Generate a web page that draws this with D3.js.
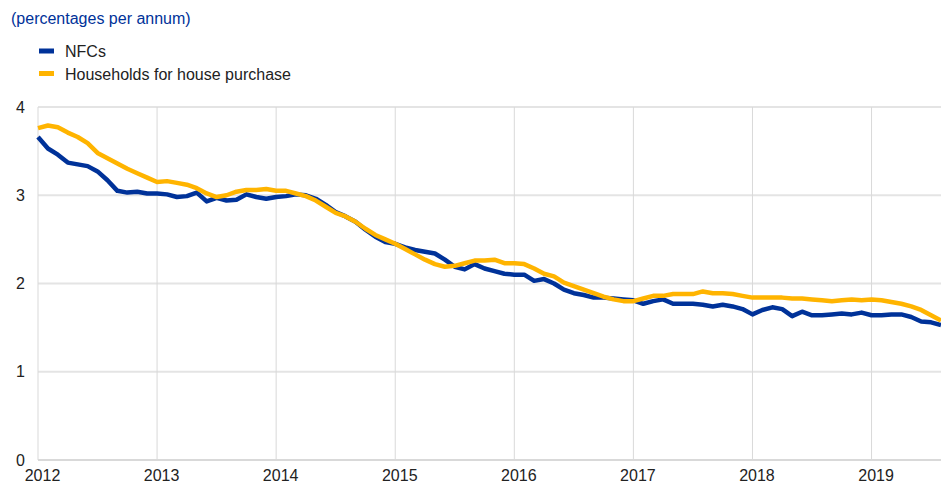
<!DOCTYPE html>
<html>
<head>
<meta charset="utf-8">
<script src="https://cdn.jsdelivr.net/npm/d3@7"></script>
<style>
  body { margin: 0; background: #fff; }
  svg { font-family: "Liberation Sans", Arial, sans-serif; }
</style>
</head>
<body>
<div id="chart"></div>
<script>
// Monthly series, Jan 2012 - Aug 2019
const startYear = 2012;
const nfcRates = [
  3.66, 3.53, 3.46, 3.37, 3.35, 3.33, 3.27, 3.17, 3.05, 3.03, 3.04, 3.02,
  3.02, 3.01, 2.98, 2.99, 3.03, 2.93, 2.97, 2.94, 2.95, 3.01, 2.98, 2.96,
  2.98, 2.99, 3.01, 3.00, 2.96, 2.89, 2.81, 2.76, 2.70, 2.61, 2.53, 2.47,
  2.45, 2.41, 2.38, 2.36, 2.34, 2.27, 2.19, 2.16, 2.22, 2.17, 2.14, 2.11,
  2.10, 2.10, 2.03, 2.05, 2.00, 1.93, 1.89, 1.87, 1.84, 1.84, 1.83, 1.82,
  1.81, 1.77, 1.80, 1.82, 1.77, 1.77, 1.77, 1.76, 1.74, 1.76, 1.74, 1.71,
  1.65, 1.70, 1.73, 1.71, 1.63, 1.68, 1.64, 1.64, 1.65, 1.66, 1.65, 1.67,
  1.64, 1.64, 1.65, 1.65, 1.62, 1.57, 1.56, 1.53
];
const houseRates = [
  3.76, 3.79, 3.77, 3.71, 3.66, 3.59, 3.48, 3.42, 3.36, 3.30, 3.25, 3.20,
  3.15, 3.16, 3.14, 3.12, 3.08, 3.02, 2.98, 3.00, 3.04, 3.06, 3.06, 3.07,
  3.05, 3.05, 3.02, 2.99, 2.94, 2.87, 2.80, 2.76, 2.70, 2.62, 2.55, 2.50,
  2.45, 2.39, 2.33, 2.27, 2.22, 2.19, 2.20, 2.23, 2.26, 2.26, 2.27, 2.23,
  2.23, 2.22, 2.17, 2.11, 2.08, 2.01, 1.97, 1.93, 1.89, 1.85, 1.82, 1.80,
  1.80, 1.83, 1.86, 1.86, 1.88, 1.88, 1.88, 1.91, 1.89, 1.89, 1.88, 1.86,
  1.84, 1.84, 1.84, 1.84, 1.83, 1.83, 1.82, 1.81, 1.80, 1.81, 1.82, 1.81,
  1.82, 1.81, 1.79, 1.77, 1.74, 1.70, 1.64, 1.58
];
const seriesNames = ["NFCs", "Households for house purchase"];
const seriesColors = ["#003299", "#ffb400"];
const yTicks = [0, 1, 2, 3, 4];
const xTicks = [2012, 2013, 2014, 2015, 2016, 2017, 2018, 2019];

const width = 941, height = 484;
const margin = {top: 107, right: 0, bottom: 24, left: 38};

const svg = d3.select("#chart").append("svg")
  .attr("width", width)
  .attr("height", height);

const x = d3.scaleLinear()
  .domain([startYear, startYear + (nfcRates.length - 1) / 12])
  .range([margin.left, width - margin.right]);
const y = d3.scaleLinear()
  .domain([0, 4])
  .range([height - margin.bottom, margin.top]);

// Subtitle
svg.append("text")
  .attr("x", 11)
  .attr("y", 24)
  .attr("fill", "#003299")
  .style("font-size", "16px")
  .text("(percentages per annum)");

// Legend
const legend = svg.append("g");
seriesNames.forEach((name, i) => {
  legend.append("rect")
    .attr("x", 39).attr("y", 48.5 + i * 22.5)
    .attr("width", 15).attr("height", 5)
    .attr("fill", seriesColors[i]);
  legend.append("text")
    .attr("x", 65).attr("y", 57 + i * 22.5)
    .attr("fill", "#222")
    .style("font-size", "16px")
    .text(name);
});

// Horizontal grid
svg.append("g")
  .selectAll("line")
  .data(yTicks.filter(d => d > 0))
  .join("line")
  .attr("x1", margin.left).attr("x2", width)
  .attr("y1", d => y(d)).attr("y2", d => y(d))
  .attr("stroke", "#e4e4e4")
  .attr("stroke-width", 2);

// Vertical grid
svg.append("g")
  .selectAll("line")
  .data(xTicks)
  .join("line")
  .attr("x1", d => x(d)).attr("x2", d => x(d))
  .attr("y1", y(4)).attr("y2", y(0))
  .attr("stroke", "#d9d9d9")
  .attr("stroke-width", 1);

// Baseline
svg.append("line")
  .attr("x1", margin.left).attr("x2", width)
  .attr("y1", y(0)).attr("y2", y(0))
  .attr("stroke", "#d9d9d9")
  .attr("stroke-width", 2);

// Y axis labels
const yAxis = d3.axisLeft(y).tickValues(yTicks).tickFormat(d3.format("d")).tickSize(0).tickPadding(0);
svg.append("g")
  .attr("transform", `translate(25,0)`)
  .call(yAxis)
  .call(g => g.select(".domain").remove())
  .call(g => g.selectAll("text")
    .attr("fill", "#222")
    .style("font-size", "16px")
    .style("font-family", "Liberation Sans, Arial, sans-serif"));

// X axis labels
const xAxis = d3.axisBottom(x).tickValues(xTicks).tickFormat(d3.format("d")).tickSize(0).tickPadding(10);
svg.append("g")
  .attr("transform", `translate(4,${y(0)})`)
  .call(xAxis)
  .call(g => g.select(".domain").remove())
  .call(g => g.selectAll("text")
    .attr("fill", "#222")
    .style("font-size", "16px")
    .style("font-family", "Liberation Sans, Arial, sans-serif"));

// Lines
const line = d3.line()
  .x((d, i) => x(startYear + i / 12))
  .y(d => y(d));

[nfcRates, houseRates].forEach((values, i) => {
  svg.append("path")
    .datum(values)
    .attr("fill", "none")
    .attr("stroke", seriesColors[i])
    .attr("stroke-width", 4.5)
    .attr("stroke-linejoin", "round")
    .attr("d", line);
});
</script>
</body>
</html>
